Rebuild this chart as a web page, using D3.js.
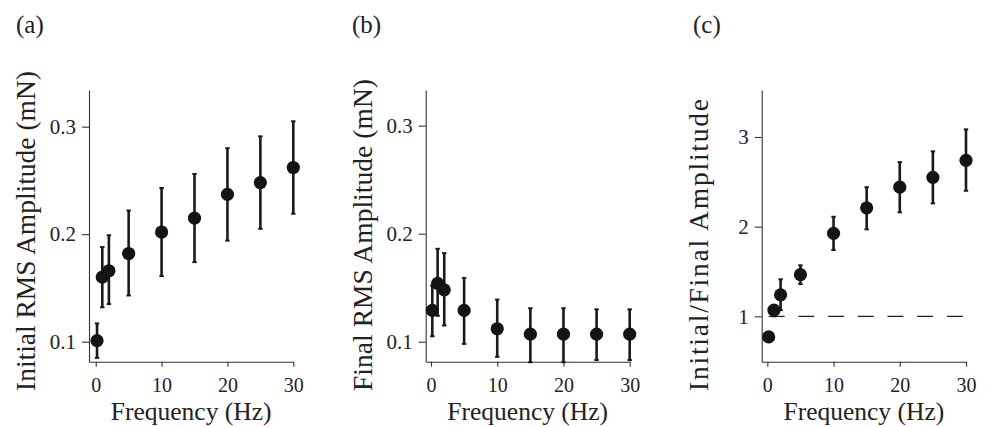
<!DOCTYPE html>
<html>
<head>
<meta charset="utf-8">
<script src="https://cdn.jsdelivr.net/npm/d3@7/dist/d3.min.js"></script>
<style>
  html, body { margin: 0; padding: 0; background: #ffffff; }
  svg { display: block; }
  text { font-family: "Liberation Serif", "Times New Roman", serif; fill: #222; }
</style>
</head>
<body>
<svg id="chart" width="993" height="427"></svg>
<script>
// ---- data ----
const frequency = [0.2, 1, 2, 5, 10, 15, 20, 25, 30];

const initialMean = [0.101, 0.160, 0.166, 0.182, 0.202, 0.215, 0.237, 0.248, 0.262];
const initialLow  = [0.085, 0.132, 0.135, 0.143, 0.161, 0.174, 0.194, 0.205, 0.219];
const initialHigh = [0.117, 0.188, 0.199, 0.222, 0.243, 0.256, 0.280, 0.291, 0.305];

const finalMean = [0.129, 0.154, 0.148, 0.129, 0.112, 0.107, 0.107, 0.107, 0.107];
const finalLow  = [0.105, 0.124, 0.115, 0.098, 0.086, 0.081, 0.081, 0.083, 0.083];
const finalHigh = [0.152, 0.186, 0.182, 0.159, 0.139, 0.131, 0.131, 0.130, 0.130];

const ratioMean = [0.77, 1.07, 1.24, 1.465, 1.926, 2.21, 2.44, 2.55, 2.74];
const ratioLow  = [0.77, 1.00, 1.07, 1.36, 1.74, 1.97, 2.16, 2.26, 2.40];
const ratioHigh = [0.77, 1.126, 1.413, 1.569, 2.11, 2.44, 2.72, 2.84, 3.085];

const xTicks = [0, 10, 20, 30];
const amplitudeTicks = [0.1, 0.2, 0.3];
const ratioTicks = [1, 2, 3];
const referenceRatio = 1;

const panelLabels = ["(a)", "(b)", "(c)"];
const yTitles = ["Initial RMS Amplitude (mN)", "Final RMS Amplitude (mN)", "Initial/Final Amplitude"];
const xTitle = "Frequency (Hz)";

// ---- layout ----
const svg = d3.select("#chart");
const plotTop = 90, plotBottom = 361.7;

const panels = [
  { left: 89,    right: 293.3, xdom: [-1.02, 30], ydom: [0.0814, 0.3341], ticks: amplitudeTicks, fmt: d3.format(".1f"),
    mean: initialMean, lo: initialLow, hi: initialHigh, label: panelLabels[0], title: yTitles[0], labelX: 16, titleLen: 320 },
  { left: 425.7, right: 629.7, xdom: [-0.8, 30],  ydom: [0.0815, 0.333],  ticks: amplitudeTicks, fmt: d3.format(".1f"),
    mean: finalMean, lo: finalLow, hi: finalHigh, label: panelLabels[1], title: yTitles[1], labelX: 352, titleLen: 312 },
  { left: 761.7, right: 966,   xdom: [-0.85, 30], ydom: [0.494, 3.524],   ticks: ratioTicks, fmt: d3.format("d"),
    mean: ratioMean, lo: ratioLow, hi: ratioHigh, label: panelLabels[2], title: yTitles[2], labelX: 693, titleLen: 292, ref: referenceRatio }
];

panels.forEach(p => {
  const x = d3.scaleLinear().domain(p.xdom).range([p.left, p.right]);
  const y = d3.scaleLinear().domain(p.ydom).range([plotBottom, plotTop]);
  const g = svg.append("g");

  const ya = g.append("g").attr("transform", `translate(${p.left},0)`)
    .call(d3.axisLeft(y).tickValues(p.ticks).tickFormat(p.fmt).tickSize(7).tickSizeOuter(0).tickPadding(6));
  const xa = g.append("g").attr("transform", `translate(0,${plotBottom})`)
    .call(d3.axisBottom(x).tickValues(xTicks).tickFormat(d3.format("d")).tickSize(5).tickSizeOuter(0).tickPadding(11));

  [ya, xa].forEach(a => {
    a.select(".domain").attr("stroke", "#333").attr("stroke-width", 1.1);
    a.selectAll(".tick line").attr("stroke", "#333").attr("stroke-width", 1.1);
    a.selectAll(".tick text").attr("fill", "#222")
      .style("font-family", '"Liberation Serif", serif');
  });
  ya.selectAll(".tick text").attr("font-size", 21);
  xa.selectAll(".tick text").attr("font-size", 20);

  if (p.ref !== undefined) {
    g.append("line")
      .attr("x1", x(frequency[0])).attr("x2", x(30))
      .attr("y1", y(p.ref)).attr("y2", y(p.ref))
      .attr("stroke", "#222").attr("stroke-width", 1.3)
      .attr("stroke-dasharray", "16,13.7");
  }

  const idx = d3.range(frequency.length);
  g.selectAll(".err").data(idx).join("line")
    .attr("x1", i => x(frequency[i])).attr("x2", i => x(frequency[i]))
    .attr("y1", i => y(p.lo[i])).attr("y2", i => y(p.hi[i]))
    .attr("stroke", "#1a1a1a").attr("stroke-width", 2.6);
  ["lo", "hi"].forEach(k => {
    g.selectAll(".cap" + k).data(idx.filter(i => p.hi[i] !== p.lo[i])).join("line")
      .attr("x1", i => x(frequency[i]) - 2.2).attr("x2", i => x(frequency[i]) + 2.2)
      .attr("y1", i => y(p[k][i])).attr("y2", i => y(p[k][i]))
      .attr("stroke", "#1a1a1a").attr("stroke-width", 2);
  });

  g.selectAll(".pt").data(idx).join("circle")
    .attr("cx", i => x(frequency[i])).attr("cy", i => y(p.mean[i]))
    .attr("r", 6.6).attr("fill", "#141414");

  svg.append("text").attr("x", p.labelX).attr("y", 33)
    .attr("font-size", 25).text(p.label);

  svg.append("text").attr("x", (p.left + p.right) / 2).attr("y", 419.5)
    .attr("text-anchor", "middle").attr("font-size", 25.5).text(xTitle);

  svg.append("text")
    .attr("transform", `translate(${p.left - 54},391) rotate(-90)`)
    .attr("text-anchor", "start").attr("font-size", 27.5)
    .attr("textLength", p.titleLen).attr("lengthAdjust", "spacing")
    .text(p.title);
});
</script>
</body>
</html>
